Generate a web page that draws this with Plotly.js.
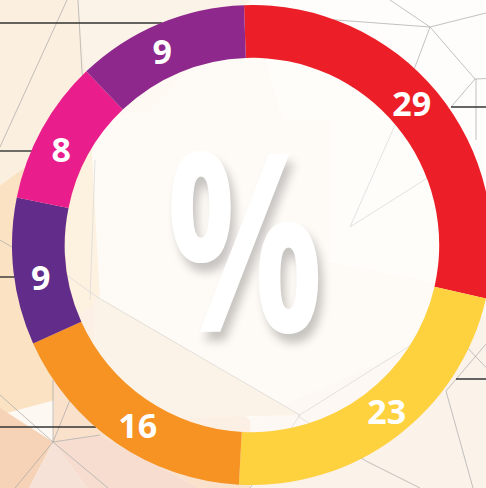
<!DOCTYPE html>
<html>
<head>
<meta charset="utf-8">
<script src="https://cdn.plot.ly/plotly-3.0.1.min.js"></script>
<style>
html,body{margin:0;padding:0;overflow:hidden;background:#FDF8F1;width:486px;height:488px;}
#chart{position:absolute;left:-20px;top:-25px;width:540px;height:540px;}
.annotation-text{transform-box:fill-box;transform-origin:center;transform:scaleX(0.7);}
</style>
</head>
<body>
<div id="chart"></div>
<script>
// Data
const categories = ["A", "B", "C", "D", "E", "F"];
const labelTexts = ["29", "23", "16", "9", "8", "9"];
// share of the ring each segment occupies (percent of 360°)
const segmentShares = [29.1, 22.3, 17.4, 9.9, 9.7, 11.6];
const segmentColors = ["#EC1F28", "#FED13F", "#F69322", "#622C8B", "#E91D8C", "#8E288D"];

// div is 540x540, shifted by (20,25) so the ring can run past the right edge
const DW = 540, DH = 540, OX = 20, OY = 25;
const px = x => (x + OX) / DW;
const py = y => 1 - (y + OY) / DH;
function pt(x, y) { return px(x).toFixed(4) + "," + py(y).toFixed(4); }
function poly(points, fill) {
  return {type: "path", xref: "paper", yref: "paper", layer: "below",
    path: "M" + points.map(p => pt(p[0], p[1])).join("L") + "Z",
    fillcolor: fill, line: {width: 0}};
}
function seg(a, b, color, w) {
  return {type: "line", xref: "paper", yref: "paper", layer: "below",
    x0: px(a[0]), y0: py(a[1]), x1: px(b[0]), y1: py(b[1]),
    line: {color: color, width: w}};
}

const shapes = [
  poly([[-20,-25],[78,-25],[78,0],[90,120],[-20,200]], "#FBEFDF"),
  poly([[78,-25],[250,-25],[250,0],[150,110],[90,120],[78,0]], "#FCF3E8"),
  poly([[250,-25],[520,-25],[520,300],[320,260],[250,0]], "#FEFDFB"),
  poly([[-20,200],[90,120],[100,300],[55,400],[-20,420]], "#FAE2C2"),
  poly([[-20,395],[53,442],[15,515],[-20,515]], "#F6D3B7"),
  poly([[15,515],[53,442],[108,515]], "#F7E2D8"),
  poly([[53,442],[100,435],[250,515],[108,515]], "#F6DDD0"),
  poly([[53,442],[55,330],[100,300],[250,420],[250,515],[100,435]], "#F9E1CC"),
  poly([[250,420],[520,300],[520,515],[250,515]], "#FBF2EA"),
  poly([[95,295],[300,415],[90,420]], "#F8E6D2"),
  poly([[120,120],[330,120],[330,260],[100,300]], "#FDF9F3")
];
const g = "#A8A8A8", gw = 0.7;
[
  [[243,13],[430,27]], [[390,0],[430,27]], [[430,27],[498,10]], [[430,27],[475,79]],
  [[475,79],[498,78]], [[475,79],[451,107]], [[430,27],[412,75]], [[476,79],[476,140]],
  [[350,227],[395,125]], [[350,227],[440,170]], [[298,416],[416,342]], [[298,416],[366,461]],
  [[366,461],[420,488]], [[446,391],[473,488]], [[446,391],[498,330]], [[460,340],[498,380]],
  [[67,0],[0,147]], [[78,0],[82,72]], [[82,72],[90,130]],
  [[53,442],[53,380]], [[53,442],[0,395]], [[53,442],[15,488]], [[53,442],[108,488]],
  [[53,442],[100,435]], [[53,442],[70,400]], [[0,240],[60,275]], [[68,276],[97,297]],
  [[97,297],[300,415]], [[95,160],[90,300]], [[300,415],[250,488]]
].forEach(s => shapes.push(seg(s[0], s[1], g, gw)));
const k = "#333333";
[
  [[0,23],[162,23]], [[0,151],[32,151]], [[0,277],[18,277]], [[0,427],[96,427]],
  [[451,107],[498,107]], [[456,379],[498,379]]
].forEach(s => shapes.push(seg(s[0], s[1], k, 1.4)));
// soft white veil in the hole
shapes.push({type: "circle", xref: "paper", yref: "paper", layer: "below",
  x0: px(252-187), x1: px(252+187), y0: py(245+187), y1: py(245-187),
  fillcolor: "rgba(255,254,250,0.55)", line: {width: 0}});

const common = {
  type: "pie",
  labels: categories,
  values: segmentShares,
  sort: false,
  direction: "clockwise",
  hoverinfo: "none",
  showlegend: false
};
const data = [
  // visible ring
  Object.assign({}, common, {
    rotation: -1.9,
    textinfo: "none",
    hole: 0.78,
    marker: {colors: segmentColors, line: {width: 0}},
    domain: {x: [px(12), px(492)], y: [py(485), py(5)]}
  }),
  // transparent wider ring carrying the horizontal value labels at the band's middle
  Object.assign({}, common, {
    rotation: -4,
    text: labelTexts,
    textinfo: "text",
    textposition: "inside",
    insidetextorientation: "horizontal",
    hole: 0.6,
    marker: {colors: categories.map(() => "rgba(0,0,0,0)"), line: {width: 0}},
    textfont: {family: "Open Sans", size: 34, color: "#FFFFFF", weight: 700},
    domain: {x: [px(252-267), px(252+267)], y: [py(245+267), py(245-267)]}
  })
];

const layout = {
  width: DW, height: DH,
  margin: {l: 0, r: 0, t: 0, b: 0},
  paper_bgcolor: "rgba(0,0,0,0)",
  plot_bgcolor: "rgba(0,0,0,0)",
  showlegend: false,
  shapes: shapes,
  annotations: [{
    xref: "paper", yref: "paper", x: px(245), y: py(234),
    text: "%", showarrow: false,
    font: {family: "Open Sans", size: 250, color: "#FFFFFF", weight: 700,
      shadow: "6px 8px 10px rgba(0,0,0,0.22)"},
    xanchor: "center", yanchor: "middle"
  }]
};

Plotly.newPlot("chart", data, layout, {displayModeBar: false, staticPlot: true});
</script>
</body>
</html>
